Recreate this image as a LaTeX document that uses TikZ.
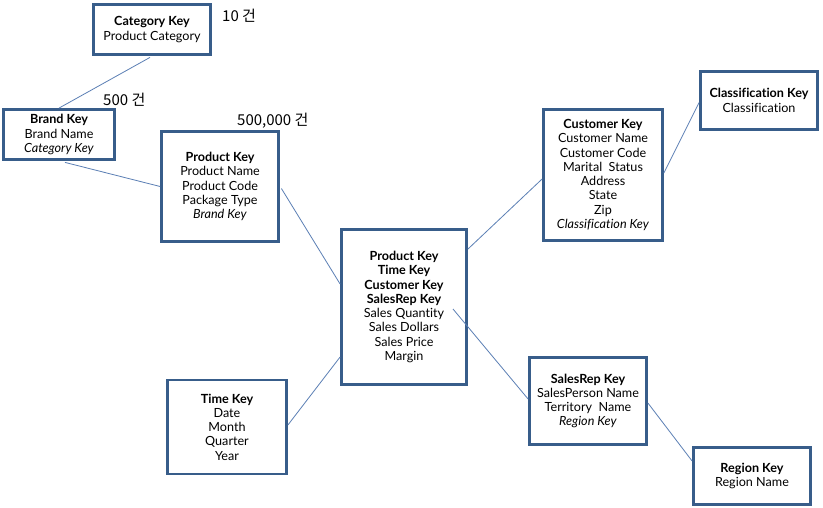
\documentclass[tikz,border=0pt]{standalone}
\usepackage{fontspec}
\usetikzlibrary{calc}
\setmainfont{Lato}[Ligatures=NoCommon]
\newfontfamily\krfont{Noto Sans CJK KR}
\definecolor{boxblue}{HTML}{385D8A}
\definecolor{linkblue}{HTML}{5B7FB5}
\begin{document}
\begin{tikzpicture}[x=1pt,y=-1pt,
  tbl/.style={draw=boxblue,line width=2.8pt,fill=white,align=center,inner sep=0pt,
    font=\fontsize{12.6}{14.3}\selectfont},
  link/.style={draw=linkblue,line width=0.8pt},
  cnt/.style={font=\krfont\fontsize{15}{17}\selectfont,anchor=west,inner sep=0pt}]
\useasboundingbox (0,0) rectangle (823,508);
\fill[white] (0,0) rectangle (823,508);
\node[tbl,minimum width=117,minimum height=50] (cat) at (152,29.5) {\textbf{Category Key}\\Product Category};
\node[tbl,minimum width=111,minimum height=50] (brand) at (59,134.5) {\textbf{Brand Key}\\Brand Name\\\textit{Category Key}};
\node[tbl,minimum width=117,minimum height=110] (prod) at (220,186.5) {\textbf{Product Key}\\Product Name\\Product Code\\Package Type\\\textit{Brand Key}};
\node[tbl,minimum width=125,minimum height=155] (fact) at (404,307) {\textbf{Product Key}\\\textbf{Time Key}\\\textbf{Customer Key}\\\textbf{SalesRep Key}\\Sales Quantity\\Sales Dollars\\Sales Price\\Margin};
\node[tbl,minimum width=119,minimum height=94] (time) at (227,427) {\textbf{Time Key}\\Date\\Month\\Quarter\\Year};
\node[tbl,minimum width=119,minimum height=131] (cust) at (603,175) {\textbf{Customer Key}\\Customer Name\\Customer Code\\Marital\ \ Status\\Address\\State\\Zip\\\textit{Classification Key}};
\node[tbl,minimum width=117,minimum height=58] (cls) at (759,100.5) {\textbf{Classification Key}\\Classification};
\node[tbl,minimum width=117,minimum height=87] (rep) at (588,401) {\textbf{SalesRep Key}\\SalesPerson Name\\Territory\ \ Name\\\textit{Region Key}};
\node[tbl,minimum width=117,minimum height=57] (reg) at (752,476) {\textbf{Region Key}\\Region Name};
\node[cnt] (n10) at (222,16) {10 건};
\node[cnt] (n500) at (103,100) {500 건};
\node[cnt] (n500k) at (237,121) {500,000 건};
\coordinate (fin) at (453,309);
\draw[link] ($(cat.south)+(-2,1.5)$) -- (brand.north);
\draw[link] ($(brand.south)+(6,1.5)$) -- (prod.west);
\draw[link] ($(prod.east)+(1.5,2)$) -- ($(fact.west)+(0,-23)$);
\draw[link] ($(time.east)+(0,-2)$) -- ($(fact.west)+(0,50)$);
\draw[link] ($(fact.north east)+(0,21)$) -- ($(cust.west)+(0,4)$);
\draw[link] ($(cust.east)+(0,-2)$) -- ($(cls.west)+(0,2)$);
\draw[link] (fin) -- ($(rep.west)+(0,-2)$);
\draw[link] ($(rep.east)+(0,2)$) -- ($(reg.west)+(0,-15)$);
\end{tikzpicture}
\end{document}
